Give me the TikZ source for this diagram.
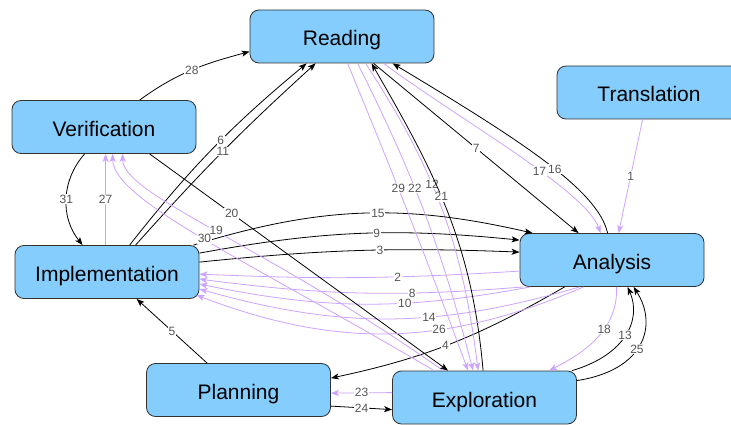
\documentclass[tikz,border=0pt]{standalone}
\usepackage{fontspec}
\setmainfont{Liberation Sans}
\usetikzlibrary{arrows.meta,calc}
\definecolor{boxfill}{RGB}{133,205,253}
\definecolor{boxline}{RGB}{50,50,50}
\definecolor{lilac}{RGB}{204,163,255}
\definecolor{lblgray}{RGB}{85,85,85}
\tikzset{
  box/.style={draw=boxline, line width=0.8pt, fill=boxfill, rounded corners=9pt,
    minimum width=184pt, minimum height=53pt, inner sep=0pt,
    text height=19pt, text depth=0pt,
    font=\fontsize{21}{25}\selectfont},
  blk/.style={draw=black, line width=0.8pt, -{Stealth[length=8pt,width=6pt,inset=2pt]}},
  pur/.style={draw=lilac, line width=0.8pt, -{Stealth[length=8pt,width=6pt,inset=2pt]}},
  lbl/.style={fill=white, inner sep=0.8pt, text=lblgray, font=\fontsize{12}{12}\selectfont},
}
\begin{document}
\begin{tikzpicture}[x=1pt,y=1pt]
\clip (0,0) rectangle (731,424);
\fill[white] (0,0) rectangle (731,424);

% states
\node[box] (R) at (342,387.5) {Reading};
\node[box] (T) at (649,331.5) {Translation};
\node[box] (V) at (104,297) {Verification};
\node[box] (I) at (107,152) {Implementation};
\node[box] (A) at (612,164) {Analysis};
\node[box] (P) at (238.5,34) {Planning};
\node[box] (E) at (484.5,26.5) {Exploration};

% transitions, numbered in order
\draw[pur] ($(T.south west)+(86,0)$) -- node[lbl]{1} ($(A.north west)+(99,0)$);
\draw[pur] ($(A.north west)+(0,-38)$) to[bend left=3] node[lbl,pos=.37]{2} ($(I.north east)+(0,-29)$);
\draw[blk] ($(I.north east)+(0,-17)$) to[bend left=4] node[lbl,pos=.57]{3} ($(A.north west)+(0,-19)$);
\draw[blk] ($(A.south west)+(45,0)$) to[out=210,in=12] node[lbl,pos=.53]{4} ($(P.north east)+(0,-15)$);
\draw[blk] ($(P.north west)+(61,0)$) -- node[lbl]{5} ($(I.south west)+(122,0)$);
\draw[blk] ($(I.north west)+(115,0)$) to[bend left=6] node[lbl,pos=.55]{6} ($(R.south west)+(57,0)$);
\draw[blk] ($(R.south west)+(124,0)$) -- node[lbl]{7} ($(A.north west)+(59,0)$);
\draw[pur] ($(A.south west)+(4,0)$) to[bend left=6] node[lbl,pos=.33]{8} ($(I.north east)+(0,-34)$);
\draw[blk] ($(I.north east)+(0,-8)$) to[bend left=8] node[lbl,pos=.56]{9} ($(A.north west)+(0,-7)$);
\draw[pur] ($(A.south west)+(11,0)$) to[bend left=11] node[lbl,pos=.37]{10} ($(I.north east)+(0,-39)$);
\draw[blk] ($(I.north west)+(121,0)$) to[bend left=3] node[lbl,pos=.5]{11} ($(R.south west)+(66,0)$);
\draw[pur] ($(R.south west)+(116,0)$) to[bend left=13] node[lbl,pos=.41]{12} ($(E.north west)+(86,0)$);
\draw[blk] ($(E.north west)+(180,0)$) .. controls (625,69) and (642,104) .. node[lbl,pos=.5]{13} ($(A.south west)+(108,0)$);
\draw[pur] ($(A.south west)+(60,0)$) to[bend left=16] node[lbl,pos=.39]{14} ($(I.north east)+(0,-44)$);
\draw[blk] ($(I.north east)+(-6,0)$) to[bend left=15] node[lbl,pos=.55]{15} ($(A.north west)+(13,0)$);
\draw[blk] ($(A.north west)+(88,0)$) .. controls (598,234) and (520,284) .. node[lbl,pos=.45]{16} ($(R.south west)+(143,0)$);
\draw[pur] ($(R.south west)+(134,0)$) .. controls (460,304) and (585,234) .. node[lbl,pos=.6]{17} ($(A.north west)+(81,0)$);
\draw[pur] ($(A.south west)+(97,0)$) to[out=-88,in=27] node[lbl,pos=.4]{18} ($(E.north west)+(157,0)$);
\draw[pur] ($(E.north west)+(51,0)$) .. controls (265,179) and (123,229) .. node[lbl,pos=.5]{19} ($(V.south west)+(111,0)$);
\draw[blk] ($(V.south west)+(138,0)$) -- node[lbl,pos=.275]{20} ($(E.north west)+(56,0)$);
\draw[blk] ($(E.north west)+(91,0)$) to[out=95,in=-60] node[lbl,pos=.55]{21} ($(R.south west)+(122,0)$);
\draw[pur] ($(R.south west)+(108,0)$) to[bend left=6] node[lbl,pos=.41]{22} ($(E.north west)+(81,0)$);
\draw[pur] ($(E.north west)+(0,-22)$) -- node[lbl]{23} ($(P.north east)+(0,-30)$);
\draw[blk] ($(P.north east)+(0,-43)$) -- node[lbl]{24} ($(E.north west)+(0,-39)$);
\draw[blk] ($(E.north east)+(0,-10)$) .. controls (645,54) and (658,99) .. node[lbl,pos=.45]{25} ($(A.south west)+(114,0)$);
\draw[pur] ($(A.south west)+(64,0)$) to[bend left=22] node[lbl,pos=.37]{26} ($(I.north east)+(-3,-50)$);
\draw[pur] ($(I.north west)+(91,0)$) -- node[lbl]{27} ($(V.south west)+(94,0)$);
\draw[blk] ($(V.north west)+(128,0)$) to[out=36,in=195] node[lbl,pos=.5]{28} ($(R.north west)+(0,-42)$);
\draw[pur] ($(R.south west)+(98,0)$) to[bend left=1] node[lbl,pos=.4]{29} ($(E.north west)+(76,0)$);
\draw[pur] ($(E.north west)+(42,0)$) .. controls (250,162) and (113,224) .. node[lbl,pos=.5]{30} ($(V.south west)+(101,0)$);
\draw[blk] ($(V.south west)+(73,0)$) to[bend right=40] node[lbl]{31} ($(I.north west)+(68,0)$);
\end{tikzpicture}
\end{document}
